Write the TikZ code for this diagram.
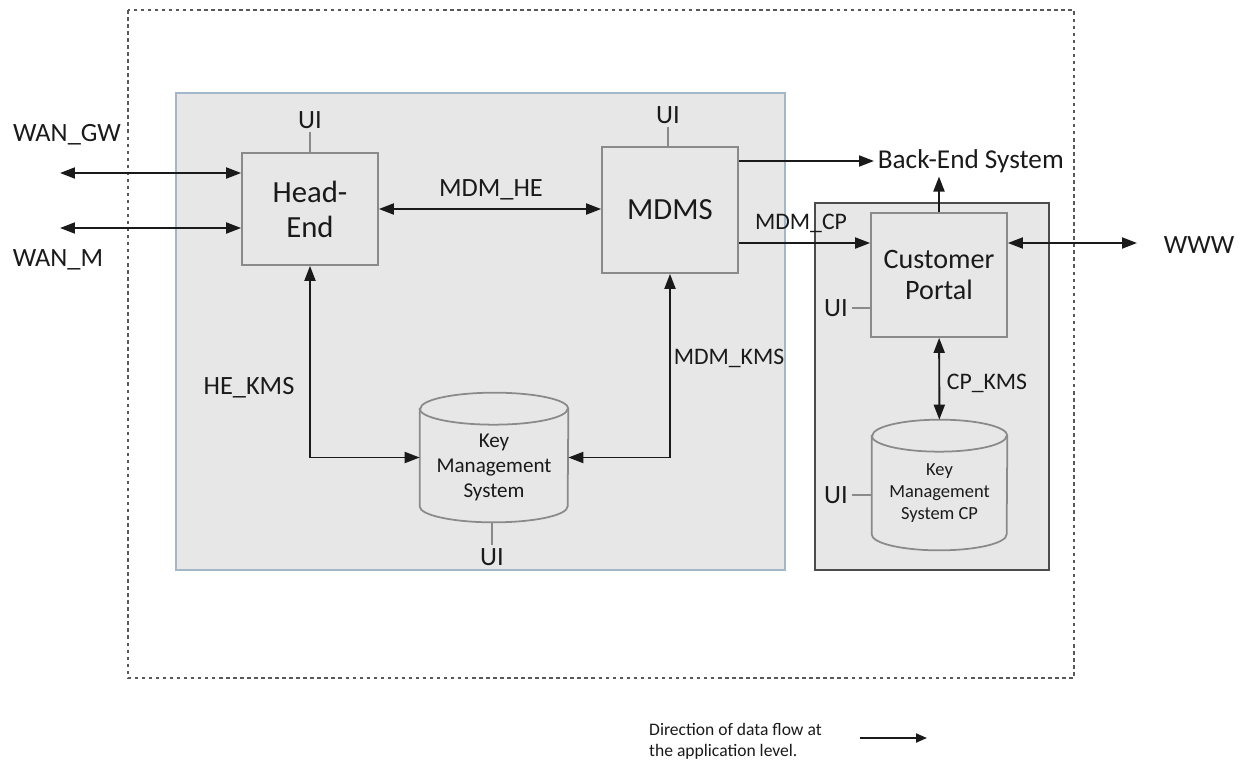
\documentclass[tikz,border=0pt]{standalone}
\usepackage{fontspec}
\setmainfont{Carlito}
\usetikzlibrary{arrows.meta,positioning}
\definecolor{panelgray}{HTML}{E8E7E7}
\definecolor{panelblue}{HTML}{A3B7CB}
\definecolor{boxgray}{HTML}{8A8A8A}
\definecolor{inkgray}{HTML}{1A1A1A}
\tikzset{
	>={Triangle[length=0.3cm,width=0.22cm]},
	unit/.style={draw=boxgray, fill=panelgray, line width=1pt, align=center, text=inkgray, font=\fontsize{17.5}{20}\selectfont},
	storetext/.style={align=center, text=inkgray, font=\fontsize{12}{14}\selectfont},
	drum/.style={draw=boxgray, fill=panelgray, line width=1pt},
	lbl/.style={inner sep=2pt, text=inkgray, font=\fontsize{15}{18}\selectfont},
	sublbl/.style={inner sep=2pt, text=inkgray, font=\fontsize{13.5}{16}\selectfont},
	flow/.style={draw=inkgray, line width=1.1pt, ->},
	dual/.style={draw=inkgray, line width=1.1pt, <->},
	uiline/.style={draw=boxgray, line width=1pt},
	boundary/.style={draw=gray!70!black, line width=1.2pt, dash pattern=on 2pt off 2pt},
}

\begin{document}
\begin{tikzpicture}[x=0.02cm, y=-0.02cm]
	\useasboundingbox (0,0) rectangle (1246,761);

	\draw[boundary] (128,10) rectangle (1074,678);
	\draw[draw=panelblue, fill=panelgray, line width=1pt] (176,93) rectangle (785,570);
	\draw[draw=gray!60!black, fill=panelgray, line width=1.2pt] (815,203) rectangle (1049,570);

	\node[unit, minimum width=2.72cm, minimum height=2.24cm] (he) at (310,209) {Head-\\End};
	\node[unit, minimum width=2.72cm, minimum height=2.52cm] (mdms) at (670,210) {MDMS};
	\node[unit, minimum width=2.72cm, minimum height=2.48cm, font=\fontsize{16}{18}\selectfont] (cp) at (939,275) {Customer\\Portal};
	\node[minimum width=2.96cm, minimum height=2.58cm] (kms) at (494,457.5) {};
	\node[minimum width=2.7cm, minimum height=2.6cm] (kmscp) at (939.5,485) {};

	\foreach \c/\r in {kms/1.48cm, kmscp/1.35cm}{
		\draw[drum] ([yshift=-0.32cm]\c.north west) -- ([yshift=0.32cm]\c.south west)
			arc[start angle=180, end angle=360, x radius=\r, y radius=0.32cm]
			-- ([yshift=-0.32cm]\c.north east)
			arc[start angle=0, end angle=180, x radius=\r, y radius=0.32cm] -- cycle;
		\draw[drum, fill=none] ([yshift=-0.32cm]\c.north west)
			arc[start angle=180, end angle=360, x radius=\r, y radius=0.32cm];
	}
	\node[storetext] (kmstext) at ([yshift=-0.2cm]kms.center) {Key\\Management\\System};
	\node[storetext, font=\fontsize{10.5}{12.5}\selectfont] (kmscptext) at ([yshift=-0.16cm]kmscp.center) {Key\\Management\\System CP};

	\node[lbl] (heui) at (310,120) {UI};
	\node[lbl] (mdmsui) at (668,115) {UI};
	\node[lbl] (cpui) at (836,308) {UI};
	\node[lbl] (kcpui) at (836,495) {UI};
	\node[lbl] (kmsui) at (492,557) {UI};
	\draw[uiline] (heui) -- (he);
	\draw[uiline] (mdmsui) -- (mdmsui |- mdms.north);
	\draw[uiline] (cpui) -- (cpui -| cp.west);
	\draw[uiline] (kcpui) -- (kcpui -| kmscp.west);
	\draw[uiline] (kmsui) -- (kmsui |- kms.south);

	\node[lbl] (wangw) at (67,135) {WAN\_GW};
	\node[lbl] (wanm) at (58,260) {WAN\_M};
	\node[lbl] (mdmhe) at (491,190) {MDM\_HE};
	\node[lbl] (hekms) at (249,388) {HE\_KMS};
	\node[sublbl] (mdmkms) at (729,358) {MDM\_KMS};
	\node[sublbl] (mdmcp) at (801,223) {MDM\_CP};
	\node[sublbl] (cpkms) at (987,383) {CP\_KMS};
	\node[lbl] (www) at (1199,245) {WWW};
	\node[lbl, anchor=west, font=\fontsize{15.5}{18}\selectfont] (be) at (874,161) {Back-End System};

	\coordinate (gwend) at (60,173);
	\coordinate (mend) at (60,228);
	\coordinate (wwwend) at (1137,243);
	\draw[dual] (gwend) -- (gwend -| he.west);
	\draw[dual] (mend) -- (mend -| he.west);
	\draw[dual] (he.east) -- (he.east -| mdms.west);
	\draw[flow] (mdms.east |- be) -- (be);
	\draw[flow] (mdms.east |- wwwend) -- (cp.west |- wwwend);
	\draw[dual] (cp.east |- wwwend) -- (wwwend);
	\draw[flow] (cp) -- (cp |- be.south);
	\draw[dual] (cp) -- (kmscp);
	\draw[dual] (he) |- (kms);
	\draw[dual] (mdms) |- (kms);

	\node[anchor=west, align=left, text=inkgray, font=\fontsize{10}{12}\selectfont] (legend) at (643,741) {Direction of data flow at\\the application level.};
	\coordinate (legendtail) at (860,738);
	\coordinate (legendhead) at (927,738);
	\draw[flow, -{Triangle[length=0.22cm,width=0.18cm]}] (legendtail) -- (legendhead);
\end{tikzpicture}
\end{document}
